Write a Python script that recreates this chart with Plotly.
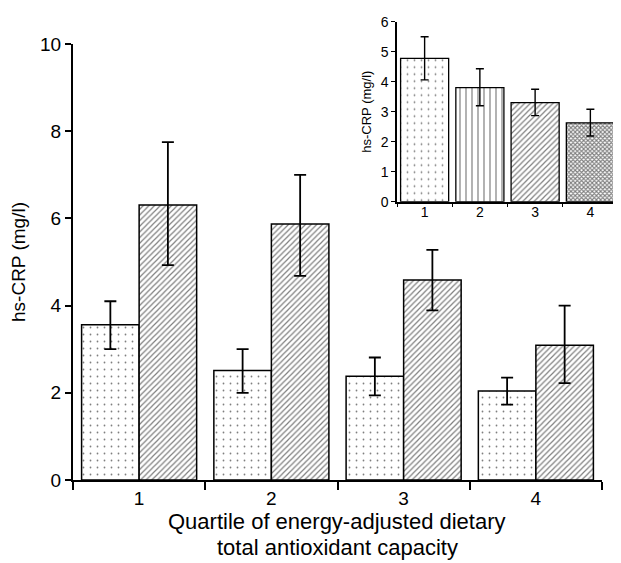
import plotly.graph_objects as go

quartiles = ["1", "2", "3", "4"]
# main chart: two series
s1_vals = [3.56, 2.51, 2.38, 2.04]
s1_up = [4.10, 3.00, 2.81, 2.35]
s1_lo = [3.00, 2.00, 1.94, 1.73]
s2_vals = [6.31, 5.87, 4.59, 3.09]
s2_up = [7.75, 7.00, 5.28, 4.00]
s2_lo = [4.93, 4.68, 3.89, 2.22]
# inset
in_vals = [4.78, 3.80, 3.30, 2.63]
in_up = [5.50, 4.43, 3.75, 3.08]
in_lo = [4.06, 3.20, 2.87, 2.19]
in_shapes = [".", "|", "/", "x"]
xtitle_lines = ["Quartile of energy-adjusted dietary", "total antioxidant capacity"]

FONT = "Liberation Sans, Arial, Helvetica, sans-serif"

def plus(v, u):
    return [a - b for a, b in zip(u, v)]

def minus(v, l):
    return [b - a for a, b in zip(l, v)]

fig = go.Figure()
fig.add_trace(go.Bar(
    x=quartiles, y=s1_vals, xaxis="x", yaxis="y",
    marker=dict(color="white", line=dict(color="black", width=1.5),
                pattern=dict(shape=".", fgcolor="black", bgcolor="white", size=7, solidity=0.05)),
    error_y=dict(type="data", symmetric=False, array=plus(s1_vals, s1_up), arrayminus=minus(s1_vals, s1_lo),
                 color="black", thickness=1.8, width=6),
    showlegend=False))
fig.add_trace(go.Bar(
    x=quartiles, y=s2_vals, xaxis="x", yaxis="y",
    marker=dict(color="white", line=dict(color="black", width=1.5),
                pattern=dict(shape="/", fgcolor="black", bgcolor="white", size=4, solidity=0.3)),
    error_y=dict(type="data", symmetric=False, array=plus(s2_vals, s2_up), arrayminus=minus(s2_vals, s2_lo),
                 color="black", thickness=1.8, width=6),
    showlegend=False))
fig.add_trace(go.Bar(
    x=quartiles, y=in_vals, xaxis="x2", yaxis="y2",
    marker=dict(color="white", line=dict(color="black", width=1.3),
                pattern=dict(shape=in_shapes, fgcolor="black", bgcolor="white",
                             size=[7, 6, 4, 3], solidity=[0.05, 0.2, 0.3, 0.6])),
    error_y=dict(type="data", symmetric=False, array=plus(in_vals, in_up), arrayminus=minus(in_vals, in_lo),
                 color="black", thickness=1.4, width=4),
    showlegend=False))

# page body has an 8px margin; figure is sized to fit the 621x563 window
W, H = 613, 555
L, T, R, B = 65, 7, 3, 83
PH = H - T - B  # 465

fig.update_layout(
    width=W, height=H,
    margin=dict(l=L, r=R, t=T, b=B, autoexpand=False),
    paper_bgcolor="white", plot_bgcolor="rgba(0,0,0,0)",
    barmode="group", bargap=0.13, bargroupgap=0,
    font=dict(family=FONT, color="black"),
    xaxis=dict(domain=[0, 529/545], type="category", range=[-0.5, 3.5], tickson="boundaries",
               showline=True, linecolor="black", linewidth=2, ticks="outside", ticklen=8, tickwidth=2,
               tickcolor="black", tickfont=dict(size=19), showgrid=False, zeroline=False,
               anchor="y", automargin=False),
    yaxis=dict(domain=[0, 436/PH], range=[0, 10], tickvals=[0, 2, 4, 6, 8, 10],
               showline=True, linecolor="black", linewidth=2, ticks="outside", ticklen=6, tickwidth=2,
               tickcolor="black", tickfont=dict(size=19), showgrid=False, zeroline=False,
               title=dict(text="hs-CRP (mg/l)", font=dict(size=19), standoff=10), anchor="x",
               automargin=False),
    xaxis2=dict(domain=[324/545, 1.0], type="category", range=[-0.5, 3.5], tickson="boundaries",
                showline=True, linecolor="black", linewidth=1.5, ticks="outside", ticklen=4, tickwidth=1.2,
                tickcolor="black", tickfont=dict(size=14), showgrid=False, zeroline=False,
                ticklabelstandoff=-3, anchor="y2", automargin=False),
    yaxis2=dict(domain=[278.3/PH, 458.3/PH], range=[0, 6], tickvals=[0, 1, 2, 3, 4, 5, 6],
                showline=True, linecolor="black", linewidth=1.5, ticks="outside", ticklen=4, tickwidth=1.2,
                tickcolor="black", tickfont=dict(size=14), showgrid=False, zeroline=False,
                title=dict(text="hs-CRP (mg/l)", font=dict(size=13), standoff=6), anchor="x2",
                automargin=False),
    annotations=[
        dict(text=xtitle_lines[0], xref="paper", yref="paper", x=264/545, y=-41/PH,
             xanchor="center", yanchor="middle", showarrow=False, font=dict(size=22, family=FONT)),
        dict(text=xtitle_lines[1], xref="paper", yref="paper", x=264/545, y=-67/PH,
             xanchor="center", yanchor="middle", showarrow=False, font=dict(size=22, family=FONT)),
    ],
)

fig.write_html("out.html")
